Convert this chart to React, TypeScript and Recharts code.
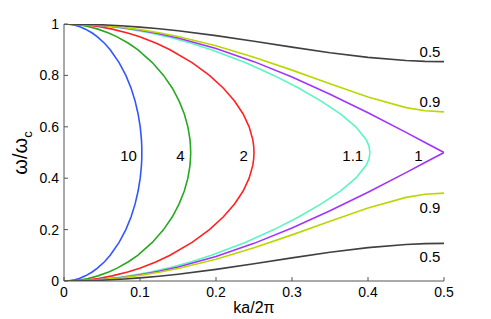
import { LineChart, Line, XAxis, YAxis, ReferenceDot, Label } from "recharts";

// closed branches (ratio > 1): frequency grid and ka/2π
const W_GRID = [
  0, 0.001, 0.005, 0.01, 0.02, 0.035, 0.05, 0.075, 0.1, 0.15, 0.2, 0.25, 0.3, 0.35, 0.4, 0.45, 0.475, 0.5,
  0.525, 0.55, 0.6, 0.65, 0.7, 0.75, 0.8, 0.85, 0.9, 0.925, 0.95, 0.965, 0.98, 0.99, 0.995, 0.999, 1,
];
const KA_10 = [
  0, 0.0064, 0.0142, 0.02, 0.0282, 0.0371, 0.044, 0.0533, 0.0608, 0.0725, 0.0814, 0.0883, 0.0936, 0.0975, 0.1003, 0.1019, 0.1023, 0.1024,
  0.1023, 0.1019, 0.1003, 0.0975, 0.0936, 0.0883, 0.0814, 0.0725, 0.0608, 0.0533, 0.044, 0.0371, 0.0282, 0.02, 0.0142, 0.0064, 0,
];
const KA_4 = [
  0, 0.0101, 0.0225, 0.0317, 0.0447, 0.0588, 0.0699, 0.0848, 0.097, 0.1162, 0.131, 0.1426, 0.1515, 0.1583, 0.163, 0.1658, 0.1664, 0.1667,
  0.1664, 0.1658, 0.163, 0.1583, 0.1515, 0.1426, 0.131, 0.1162, 0.097, 0.0848, 0.0699, 0.0588, 0.0447, 0.0317, 0.0225, 0.0101, 0,
];
const KA_2 = [
  0, 0.0142, 0.0318, 0.0449, 0.0634, 0.0837, 0.0997, 0.1215, 0.1395, 0.1685, 0.1914, 0.2098, 0.2244, 0.2357, 0.2436, 0.2484, 0.2496, 0.25,
  0.2496, 0.2484, 0.2436, 0.2357, 0.2244, 0.2098, 0.1914, 0.1685, 0.1395, 0.1215, 0.0997, 0.0837, 0.0634, 0.0449, 0.0318, 0.0142, 0,
];
const KA_11 = [
  0, 0.0192, 0.0429, 0.0608, 0.086, 0.114, 0.1364, 0.1675, 0.1939, 0.2384, 0.2762, 0.3092, 0.3384, 0.3636, 0.3839, 0.3976, 0.4013, 0.4025,
  0.4013, 0.3976, 0.3839, 0.3636, 0.3384, 0.3092, 0.2762, 0.2384, 0.1939, 0.1675, 0.1364, 0.114, 0.086, 0.0608, 0.0429, 0.0192, 0,
];

// open branches (ratio <= 1): ka/2π grid and ω/ωc of lower / upper branch
const KA_GRID = [0, 0.025, 0.05, 0.075, 0.1, 0.125, 0.15, 0.2, 0.25, 0.3, 0.35, 0.4, 0.45, 0.475, 0.5];
const W1_LOW = [0, 0.0015, 0.0062, 0.0138, 0.0245, 0.0381, 0.0545, 0.0955, 0.1464, 0.2061, 0.273, 0.3455, 0.4218, 0.4608, 0.5];
const W1_HIGH = [1, 0.9985, 0.9938, 0.9862, 0.9755, 0.9619, 0.9455, 0.9045, 0.8536, 0.7939, 0.727, 0.6545, 0.5782, 0.5392, 0.5];
const W09_LOW = [0, 0.0014, 0.0055, 0.0124, 0.022, 0.0341, 0.0488, 0.085, 0.1292, 0.1795, 0.2328, 0.2844, 0.3253, 0.3376, 0.3419];
const W09_HIGH = [1, 0.9986, 0.9945, 0.9876, 0.978, 0.9659, 0.9512, 0.915, 0.8708, 0.8205, 0.7672, 0.7156, 0.6747, 0.6624, 0.6581];
const W05_LOW = [0, 0.0008, 0.0031, 0.0069, 0.0121, 0.0187, 0.0265, 0.0452, 0.067, 0.0899, 0.1117, 0.13, 0.1421, 0.1454, 0.1464];
const W05_HIGH = [1, 0.9992, 0.9969, 0.9931, 0.9879, 0.9813, 0.9735, 0.9548, 0.933, 0.9101, 0.8883, 0.87, 0.8579, 0.8546, 0.8536];

const X_TICKS = [0, 0.1, 0.2, 0.3, 0.4, 0.5];
const Y_TICKS = [0, 0.2, 0.4, 0.6, 0.8, 1];

const closed = (ka: number[]) => ka.map((x, i) => ({ x, y: W_GRID[i] }));
const open = (w: number[]) => KA_GRID.map((x, i) => ({ x, y: w[i] }));

const FONT = "'Liberation Sans', Arial, sans-serif";
const AXIS = "#555";
const TICK_LEN = 4;

const curves = [
  { key: "r10", data: closed(KA_10), color: "#3355ff" },
  { key: "r4", data: closed(KA_4), color: "#27a821" },
  { key: "r2", data: closed(KA_2), color: "#ff2222" },
  { key: "r11", data: closed(KA_11), color: "#5cf5c4" },
  { key: "r1lo", data: open(W1_LOW), color: "#a133ff" },
  { key: "r1hi", data: open(W1_HIGH), color: "#a133ff" },
  { key: "r09lo", data: open(W09_LOW), color: "#bbd600" },
  { key: "r09hi", data: open(W09_HIGH), color: "#bbd600" },
  { key: "r05lo", data: open(W05_LOW), color: "#404040" },
  { key: "r05hi", data: open(W05_HIGH), color: "#404040" },
];

const labels = [
  { text: "10", x: 0.085, y: 0.488 },
  { text: "4", x: 0.1533, y: 0.488 },
  { text: "2", x: 0.2364, y: 0.488 },
  { text: "1.1", x: 0.38, y: 0.488 },
  { text: "1", x: 0.4662, y: 0.488 },
  { text: "0.5", x: 0.4816, y: 0.891 },
  { text: "0.9", x: 0.4816, y: 0.6965 },
  { text: "0.9", x: 0.4816, y: 0.284 },
  { text: "0.5", x: 0.4816, y: 0.0946 },
];

const fmt = (v: number) => (v === 0 || v === 1 ? String(v) : v.toFixed(1));

function BottomTick({ x, y, payload }: any) {
  return (
    <g>
      <line x1={x} x2={x} y1={y} y2={y - TICK_LEN} stroke={AXIS} />
      <text x={x} y={y + 16} textAnchor="middle" fontSize={14} fontFamily={FONT} fill="#000">
        {fmt(payload.value)}
      </text>
    </g>
  );
}
function TopTick({ x, y }: any) {
  return <line x1={x} x2={x} y1={y} y2={y + TICK_LEN} stroke={AXIS} />;
}
function LeftTick({ x, y, payload }: any) {
  return (
    <g>
      <line x1={x} x2={x + TICK_LEN} y1={y} y2={y} stroke={AXIS} />
      <text x={x - 5} y={y} dy="0.36em" textAnchor="end" fontSize={14} fontFamily={FONT} fill="#000">
        {fmt(payload.value)}
      </text>
    </g>
  );
}
function RightTick({ x, y }: any) {
  return <line x1={x} x2={x - TICK_LEN} y1={y} y2={y} stroke={AXIS} />;
}

export default function App() {
  return (
    <div style={{ position: "absolute", left: 0, top: 0, background: "#fff" }}>
      <LineChart width={491} height={319} margin={{ top: 24, right: 47, bottom: 0, left: 0 }}>
        <XAxis
          xAxisId="b"
          dataKey="x"
          type="number"
          domain={[0, 0.5]}
          ticks={X_TICKS}
          height={38}
          tickSize={0}
          tickMargin={0}
          tickLine={false}
          tick={<BottomTick />}
          axisLine={{ stroke: AXIS }}
          allowDataOverflow
        >
          <Label
            content={() => (
              <text x={254} y={313} textAnchor="middle" fontSize={16} fontFamily={FONT} fill="#000">
                ka/2π
              </text>
            )}
          />
        </XAxis>
        <XAxis
          xAxisId="t"
          orientation="top"
          type="number"
          domain={[0, 0.5]}
          ticks={X_TICKS}
          height={0}
          tickSize={0}
          tickMargin={0}
          tickLine={false}
          tick={<TopTick />}
          axisLine={{ stroke: AXIS }}
        />
        <YAxis
          yAxisId="l"
          type="number"
          domain={[0, 1]}
          ticks={Y_TICKS}
          width={64}
          tickSize={0}
          tickMargin={0}
          tickLine={false}
          tick={<LeftTick />}
          axisLine={{ stroke: AXIS }}
          allowDataOverflow
        >
          <Label
            content={() => (
              <text
                x={27}
                y={153}
                transform="rotate(-90 27 153)"
                textAnchor="middle"
                fontSize={20}
                fontFamily={FONT}
                fill="#000"
              >
                ω/ω
                <tspan fontSize={13} dy={5}>
                  c
                </tspan>
              </text>
            )}
          />
        </YAxis>
        <YAxis
          yAxisId="r"
          orientation="right"
          type="number"
          domain={[0, 1]}
          ticks={Y_TICKS}
          width={0}
          tickSize={0}
          tickMargin={0}
          tickLine={false}
          tick={<RightTick />}
          axisLine={{ stroke: AXIS }}
        />
        {curves.map((c) => (
          <Line
            key={c.key}
            xAxisId="b"
            yAxisId="l"
            data={c.data}
            dataKey="y"
            type="linear"
            stroke={c.color}
            strokeWidth={1.6}
            dot={false}
            activeDot={false}
            isAnimationActive={false}
          />
        ))}
        {labels.map((l, i) => (
          <ReferenceDot
            key={i}
            xAxisId="b"
            yAxisId="l"
            x={l.x}
            y={l.y}
            r={0}
            fill="none"
            stroke="none"
            label={{ value: l.text, position: "center", fontSize: 15, fontFamily: FONT, fill: "#000" }}
          />
        ))}
      </LineChart>
    </div>
  );
}
